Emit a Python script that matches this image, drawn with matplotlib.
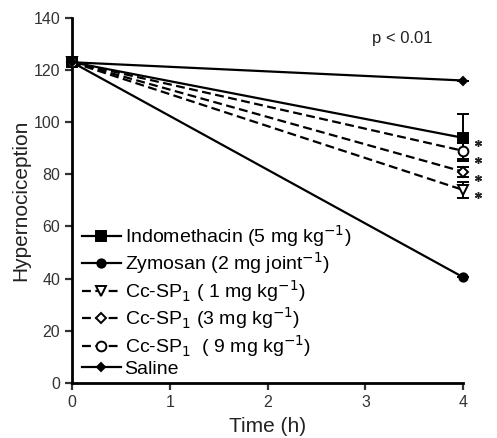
import matplotlib
matplotlib.use("Agg")
from matplotlib import pyplot as plt
from matplotlib.lines import Line2D

plt.rcParams['font.family'] = ['Liberation Sans', 'DejaVu Sans']

# time points (h)
times = [0, 4]

# series values
labels = ['Indomethacin (5 mg kg$^{-1}$)',
          'Zymosan (2 mg joint$^{-1}$)',
          'Cc-SP$_1$ ( 1 mg kg$^{-1}$)',
          'Cc-SP$_1$ (3 mg kg$^{-1}$)',
          'Cc-SP$_1$  ( 9 mg kg$^{-1}$)',
          'Saline']
values = [[123, 94],
          [123, 40.5],
          [123, 74],
          [123, 81],
          [123, 89],
          [123, 116]]
errors = [[0, 9],
          [0, 0],
          [0, 3],
          [0, 2],
          [0, 3],
          [0, 0]]
markers = ['s', 'o', 'v', 'D', 'o', 'D']
filled = [True, True, False, False, False, True]
sizes = [7, 6, 7, 5.5, 7, 4]
styles = ['-', '-', '--', '--', '--', '-']

# significance asterisks at 4 h
star_x = [4.15, 4.15, 4.15, 4.15]
star_y = [92, 85.5, 78.5, 72]

fig = plt.figure(figsize=(4.97, 4.38), dpi=100)
ax = fig.add_axes([0.145, 0.126, 0.787, 0.833])

handles = []
for i in range(len(labels)):
    face = 'black' if filled[i] else 'white'
    dash = (4, 2) if styles[i] == '--' else (None, None)
    ax.errorbar(times, values[i], yerr=errors[i], color='black', ls=styles[i],
                lw=1.6, marker=markers[i], ms=sizes[i], mfc=face, mec='black',
                mew=1.4, capsize=4, elinewidth=1.4, capthick=1.4,
                dashes=dash, clip_on=False, zorder=3)
    handles.append(Line2D([], [], color='black', ls=styles[i], lw=1.6,
                          marker=markers[i], ms=sizes[i], mfc=face, mec='black',
                          mew=1.4, dashes=dash, label=labels[i]))

ax.plot(star_x, star_y, ls='none', marker=(6, 2, 0), ms=5, mew=1.0,
        color='#222222', clip_on=False)

ax.text(3.38, 132, 'p < 0.01', fontsize=12, ha='center', va='center',
        color='#222222')

ax.set_xlim(0, 4)
ax.set_ylim(0, 140)
ax.set_xticks([0, 1, 2, 3, 4])
ax.set_yticks(range(0, 141, 20))
ax.spines['top'].set_visible(False)
ax.spines['right'].set_visible(False)
ax.spines['left'].set_linewidth(2)
ax.spines['bottom'].set_linewidth(2)
ax.tick_params(width=1.6, length=5, labelsize=11.5, colors='#333333')
ax.set_ylabel('Hypernociception', fontsize=15, color='#222222', labelpad=2)
ax.set_xlabel('Time (h)', fontsize=15, color='#222222', labelpad=5)

ax.legend(handles=handles, loc='lower left', bbox_to_anchor=(-0.005, -0.018),
          frameon=False, fontsize=14, handlelength=2.0, handletextpad=0.2,
          labelspacing=0.08, borderaxespad=0.2)

fig.savefig('out.png', dpi=100)
